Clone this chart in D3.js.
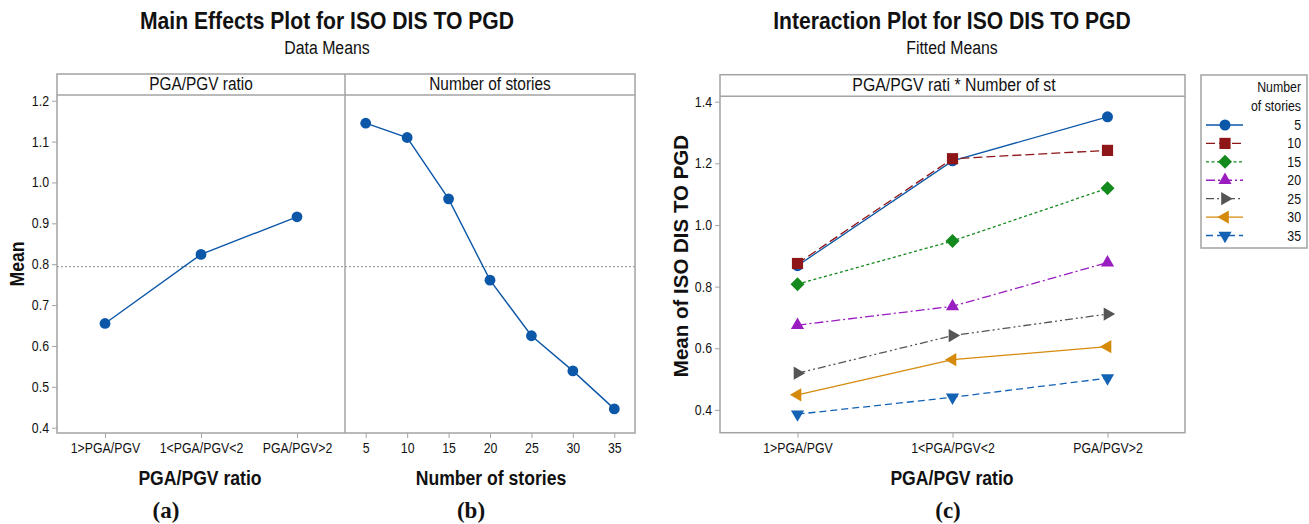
<!DOCTYPE html>
<html>
<head>
<meta charset="utf-8">
<script src="https://cdn.jsdelivr.net/npm/d3@7"></script>
<style>
  html, body { margin: 0; padding: 0; background: #fff; }
  svg { display: block; }
  text { font-family: "Liberation Sans", Arial, sans-serif; fill: #111; }
  .serif { font-family: "Liberation Serif", "Times New Roman", serif; }
</style>
</head>
<body>
<svg id="chart" width="1309" height="524"></svg>
<script>
// ---- data ----
const ratioLevels = ["1>PGA/PGV", "1<PGA/PGV<2", "PGA/PGV>2"];
const ratioMeans = [0.655, 0.824, 0.916];
const storyLevels = [5, 10, 15, 20, 25, 30, 35];
const storyMeans = [1.145, 1.110, 0.960, 0.761, 0.625, 0.539, 0.446];
const grandMean = 0.794;
const mainTicks = [0.4, 0.5, 0.6, 0.7, 0.8, 0.9, 1.0, 1.1, 1.2];

// fitted means for each number of stories across the three PGA/PGV levels
const fitted5 = [0.868, 1.208, 1.351];
const fitted10 = [0.875, 1.215, 1.242];
const fitted15 = [0.808, 0.948, 1.119];
const fitted20 = [0.675, 0.736, 0.878];
const fitted25 = [0.519, 0.641, 0.711];
const fitted30 = [0.449, 0.563, 0.605];
const fitted35 = [0.386, 0.441, 0.503];
const interTicks = [0.4, 0.6, 0.8, 1.0, 1.2, 1.4];

const series = [
  { name: "5",  values: fitted5,  color: "#0c57a8", dash: null,            symbol: d3.symbolCircle,  rot: 0 },
  { name: "10", values: fitted10, color: "#8e1518", dash: "9,4",           symbol: d3.symbolSquare,  rot: 0 },
  { name: "15", values: fitted15, color: "#148a1e", dash: "3,2.5",         symbol: d3.symbolDiamond2, rot: 0 },
  { name: "20", values: fitted20, color: "#9a1dc0", dash: "9,3,2,3",       symbol: d3.symbolTriangle2, rot: 0 },
  { name: "25", values: fitted25, color: "#555555", dash: "8,3,2,3,2,3",   symbol: d3.symbolTriangle2, rot: 90 },
  { name: "30", values: fitted30, color: "#d68a0c", dash: null,            symbol: d3.symbolTriangle2, rot: -90 },
  { name: "35", values: fitted35, color: "#1462b4", dash: "7,4",           symbol: d3.symbolTriangle2, rot: 180 }
];

const svg = d3.select("#chart");
svg.append("rect").attr("width", 1309).attr("height", 524).attr("fill", "#fff");

const frameColor = "#a3a3a3";
const fmt1 = d3.format(".1f");

// ---------------- Main effects plot ----------------
const me = { left: 57, mid: 345, right: 635, top: 74, head: 95, bottom: 433 };
const yMain = d3.scaleLinear().domain([0.387, 1.214]).range([me.bottom, me.head]);
const xRatio = d3.scalePoint().domain(ratioLevels).range([me.left, me.mid]).padding(0.5);
const xStory = d3.scalePoint().domain(storyLevels).range([me.mid, me.right]).padding(0.5);

const gMain = svg.append("g");

// grand mean reference line
gMain.append("line")
  .attr("x1", me.left).attr("x2", me.right)
  .attr("y1", yMain(grandMean)).attr("y2", yMain(grandMean))
  .attr("stroke", "#8c8c8c").attr("stroke-width", 1).attr("stroke-dasharray", "2,2");

function styleAxis(g) {
  g.select(".domain").remove();
  g.selectAll(".tick line").attr("stroke", frameColor);
  g.selectAll(".tick text").attr("font-size", 14).attr("fill", "#111").attr("class", "cond");
}

gMain.append("g")
  .attr("transform", `translate(${me.left},0)`)
  .call(d3.axisLeft(yMain).tickValues(mainTicks).tickFormat(fmt1).tickSize(5).tickPadding(3))
  .call(styleAxis);

gMain.append("g")
  .attr("transform", `translate(0,${me.bottom})`)
  .call(d3.axisBottom(xRatio).tickSize(5).tickPadding(5))
  .call(styleAxis);

gMain.append("g")
  .attr("transform", `translate(0,${me.bottom})`)
  .call(d3.axisBottom(xStory).tickSize(5).tickPadding(5))
  .call(styleAxis);

// panel frames
gMain.append("rect")
  .attr("x", me.left).attr("y", me.top).attr("width", me.right - me.left).attr("height", me.bottom - me.top)
  .attr("fill", "none").attr("stroke", frameColor).attr("stroke-width", 1.5);
gMain.append("line").attr("x1", me.mid).attr("x2", me.mid).attr("y1", me.top).attr("y2", me.bottom)
  .attr("stroke", frameColor).attr("stroke-width", 1.5);
gMain.append("line").attr("x1", me.left).attr("x2", me.right).attr("y1", me.head).attr("y2", me.head)
  .attr("stroke", frameColor).attr("stroke-width", 1.5);

gMain.append("text").attr("class", "cond")
  .attr("x", (me.left + me.mid) / 2).attr("y", 90).attr("text-anchor", "middle").attr("font-size", 17.5)
  .text("PGA/PGV ratio");
gMain.append("text").attr("class", "cond")
  .attr("x", (me.mid + me.right) / 2).attr("y", 90).attr("text-anchor", "middle").attr("font-size", 17.5)
  .text("Number of stories");

const meColor = "#0c57a8";
const lineGen = d3.line();

gMain.append("path")
  .attr("d", lineGen(ratioLevels.map((c, i) => [xRatio(c), yMain(ratioMeans[i])])))
  .attr("fill", "none").attr("stroke", meColor).attr("stroke-width", 1.4);
gMain.selectAll(".pr").data(ratioLevels).join("circle")
  .attr("cx", d => xRatio(d)).attr("cy", (d, i) => yMain(ratioMeans[i])).attr("r", 5.4)
  .attr("fill", meColor);

gMain.append("path")
  .attr("d", lineGen(storyLevels.map((c, i) => [xStory(c), yMain(storyMeans[i])])))
  .attr("fill", "none").attr("stroke", meColor).attr("stroke-width", 1.4);
gMain.selectAll(".ps").data(storyLevels).join("circle")
  .attr("cx", d => xStory(d)).attr("cy", (d, i) => yMain(storyMeans[i])).attr("r", 5.4)
  .attr("fill", meColor);

// titles & labels
svg.append("text").attr("class", "cond").attr("x", 327).attr("y", 29).attr("text-anchor", "middle")
  .attr("font-size", 24).attr("font-weight", "bold").text("Main Effects Plot for ISO DIS TO PGD");
svg.append("text").attr("class", "cond").attr("x", 327).attr("y", 54).attr("text-anchor", "middle")
  .attr("font-size", 18).text("Data Means");
svg.append("text").attr("class", "cond")
  .attr("transform", `translate(24,${(me.head + me.bottom) / 2}) rotate(-90)`)
  .attr("text-anchor", "middle").attr("font-size", 20).attr("font-weight", "bold").text("Mean");
svg.append("text").attr("class", "cond").attr("x", 200).attr("y", 485).attr("text-anchor", "middle")
  .attr("font-size", 20).attr("font-weight", "bold").text("PGA/PGV ratio");
svg.append("text").attr("class", "cond").attr("x", 491).attr("y", 485).attr("text-anchor", "middle")
  .attr("font-size", 20).attr("font-weight", "bold").text("Number of stories");

// ---------------- Interaction plot ----------------
const ip = { left: 720, right: 1185, top: 74.7, head: 96.3, bottom: 432.7 };
const yInt = d3.scaleLinear().domain([0.326, 1.4175]).range([ip.bottom, ip.head]);
const xInt = d3.scalePoint().domain(ratioLevels).range([ip.left, ip.right]).padding(0.5);

const gInt = svg.append("g");
gInt.append("g")
  .attr("transform", `translate(${ip.left},0)`)
  .call(d3.axisLeft(yInt).tickValues(interTicks).tickFormat(fmt1).tickSize(5).tickPadding(3))
  .call(styleAxis);
gInt.append("g")
  .attr("transform", `translate(0,${ip.bottom})`)
  .call(d3.axisBottom(xInt).tickSize(5).tickPadding(5))
  .call(styleAxis);

gInt.append("rect")
  .attr("x", ip.left).attr("y", ip.top).attr("width", ip.right - ip.left).attr("height", ip.bottom - ip.top)
  .attr("fill", "none").attr("stroke", frameColor).attr("stroke-width", 1.5);
gInt.append("line").attr("x1", ip.left).attr("x2", ip.right).attr("y1", ip.head).attr("y2", ip.head)
  .attr("stroke", frameColor).attr("stroke-width", 1.5);
gInt.append("text").attr("class", "cond")
  .attr("x", 954).attr("y", 91).attr("text-anchor", "middle").attr("font-size", 18)
  .text("PGA/PGV rati * Number of st");

function symbolPath(s, size) {
  return d3.symbol().type(s.symbol).size(size)();
}

series.forEach(s => {
  const pts = ratioLevels.map((c, i) => [xInt(c), yInt(s.values[i])]);
  gInt.append("path")
    .attr("d", lineGen(pts))
    .attr("fill", "none").attr("stroke", s.color).attr("stroke-width", 1.3)
    .attr("stroke-dasharray", s.dash);
  gInt.selectAll(null).data(pts).join("path")
    .attr("transform", d => `translate(${d[0]},${d[1]}) rotate(${s.rot})`)
    .attr("d", symbolPath(s, s.symbol === d3.symbolCircle ? 95 : 125))
    .attr("fill", s.color);
});

svg.append("text").attr("class", "cond").attr("x", 952).attr("y", 29).attr("text-anchor", "middle")
  .attr("font-size", 24).attr("font-weight", "bold").text("Interaction Plot for ISO DIS TO PGD");
svg.append("text").attr("class", "cond").attr("x", 952).attr("y", 54).attr("text-anchor", "middle")
  .attr("font-size", 18).text("Fitted Means");
svg.append("text")
  .attr("transform", `translate(688,256) rotate(-90)`)
  .attr("text-anchor", "middle").attr("font-size", 20.5).attr("font-weight", "bold").text("Mean of ISO DIS TO PGD");
svg.append("text").attr("class", "cond").attr("x", 952).attr("y", 485).attr("text-anchor", "middle")
  .attr("font-size", 20).attr("font-weight", "bold").text("PGA/PGV ratio");

// legend
const lg = svg.append("g");
lg.append("rect").attr("x", 1201).attr("y", 75).attr("width", 106).attr("height", 173)
  .attr("fill", "#fff").attr("stroke", frameColor).attr("stroke-width", 1.5);
lg.append("text").attr("class", "cond").attr("x", 1301).attr("y", 92).attr("text-anchor", "end")
  .attr("font-size", 14).text("Number");
lg.append("text").attr("class", "cond").attr("x", 1301).attr("y", 111).attr("text-anchor", "end")
  .attr("font-size", 14).text("of stories");
const rowY = d3.scalePoint().domain(series.map(s => s.name)).range([125, 235.5]);
series.forEach(s => {
  const y = rowY(s.name);
  lg.append("line").attr("x1", 1206).attr("x2", 1243).attr("y1", y).attr("y2", y)
    .attr("stroke", s.color).attr("stroke-width", 1.3).attr("stroke-dasharray", s.dash);
  lg.append("path").attr("transform", `translate(1225,${y}) rotate(${s.rot})`)
    .attr("d", symbolPath(s, s.symbol === d3.symbolCircle ? 95 : 125)).attr("fill", s.color);
  lg.append("text").attr("class", "cond").attr("x", 1301).attr("y", y + 5).attr("text-anchor", "end")
    .attr("font-size", 14).text(s.name);
});

// sub-figure labels
[["(a)", 166], ["(b)", 471], ["(c)", 948]].forEach(([t, x]) => {
  svg.append("text").attr("class", "serif").attr("x", x).attr("y", 518).attr("text-anchor", "middle")
    .attr("font-size", 23).attr("font-weight", "bold").text(t);
});

// condensed sans text
const squeeze = 0.88;
svg.selectAll("text.cond").each(function () {
  const w = this.getComputedTextLength();
  d3.select(this).attr("textLength", w * squeeze).attr("lengthAdjust", "spacingAndGlyphs");
});
</script>
</body>
</html>
